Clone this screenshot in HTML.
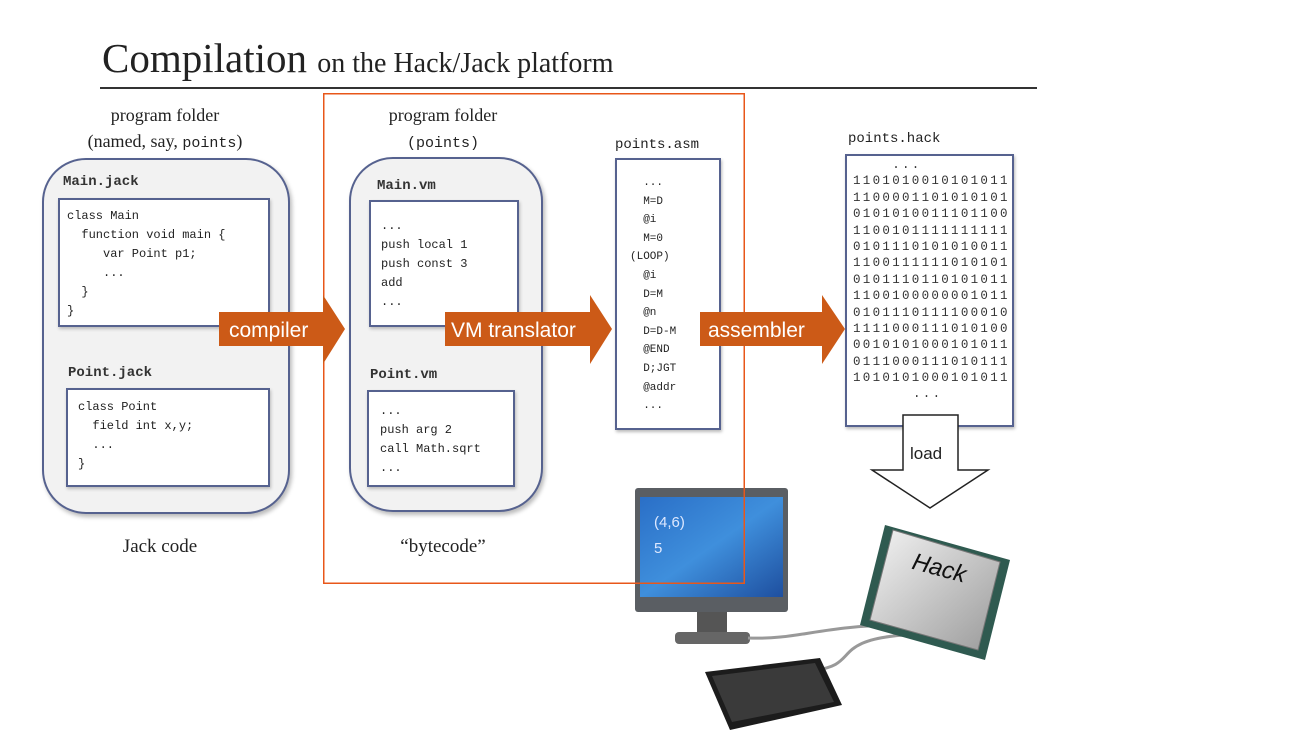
<!DOCTYPE html>
<html><head><meta charset="utf-8"><style>
body{margin:0;width:1316px;height:755px;background:#fff;position:relative;overflow:hidden;font-family:"Liberation Serif",serif;}
.a{position:absolute;}
.serif{font-family:"Liberation Serif",serif;color:#222;}
.mono{font-family:"Liberation Mono","DejaVu Sans Mono",monospace;color:#222;white-space:pre;}
.fold{position:absolute;background:#f2f2f2;border:2px solid #56628f;border-radius:44px;box-shadow:2px 3px 4px #bbb;}
.box{position:absolute;background:#fff;border:2px solid #56628f;box-shadow:1px 2px 3px #bbb;}
.lbl{font-family:"Liberation Mono","DejaVu Sans Mono",monospace;font-size:14px;font-weight:bold;color:#333;position:absolute;}
.code{font-size:12px;line-height:19px;position:absolute;}
</style></head><body>
<div class="a serif" style="left:102px;top:34px;font-size:41px;white-space:nowrap;">Compilation <span style="font-size:28px">on the Hack/Jack platform</span></div>
<div class="a" style="left:100px;top:87px;width:937px;height:2px;background:#333"></div>

<div class="a serif" style="left:65px;top:102px;width:200px;text-align:center;font-size:18px;line-height:26px;">program folder<br>(named, say, <span style="font-family:'Liberation Mono',monospace;font-size:15px">points</span>)</div>
<div class="fold" style="left:42px;top:158px;width:244px;height:352px"></div>
<div class="lbl" style="left:63px;top:174px">Main.jack</div>
<div class="box" style="left:58px;top:198px;width:208px;height:125px"></div>
<div class="code mono" style="left:67px;top:207px">class Main
  function void main {
     var Point p1;
     ...
  }
}</div>
<div class="lbl" style="left:68px;top:365px">Point.jack</div>
<div class="box" style="left:66px;top:388px;width:200px;height:95px"></div>
<div class="code mono" style="left:78px;top:398px">class Point
  field int x,y;
  ...
}</div>
<div class="a serif" style="left:60px;top:536px;width:200px;text-align:center;font-size:19px">Jack code</div>

<div class="a serif" style="left:343px;top:102px;width:200px;text-align:center;font-size:18px;line-height:26px;">program folder<br><span style="font-family:'Liberation Mono',monospace;font-size:15px">(points)</span></div>
<div class="fold" style="left:349px;top:157px;width:190px;height:351px"></div>
<div class="lbl" style="left:377px;top:178px">Main.vm</div>
<div class="box" style="left:369px;top:200px;width:146px;height:123px"></div>
<div class="code mono" style="left:381px;top:217px">...
push local 1
push const 3
add
...</div>
<div class="lbl" style="left:370px;top:367px">Point.vm</div>
<div class="box" style="left:367px;top:390px;width:144px;height:93px"></div>
<div class="code mono" style="left:380px;top:402px">...
push arg 2
call Math.sqrt
...</div>
<div class="a serif" style="left:343px;top:536px;width:200px;text-align:center;font-size:19px">“bytecode”</div>

<div class="lbl" style="left:615px;top:137px;font-weight:normal;color:#222">points.asm</div>
<div class="box" style="left:615px;top:158px;width:102px;height:268px"></div>
<div class="code mono" style="left:630px;top:174px;font-size:11px;line-height:18.6px">  ...
  M=D
  @i
  M=0
(LOOP)
  @i
  D=M
  @n
  D=D-M
  @END
  D;JGT
  @addr
  ...</div>

<div class="lbl" style="left:848px;top:131px;font-weight:normal;color:#222">points.hack</div>
<div class="box" style="left:845px;top:154px;width:165px;height:269px"></div>
<div class="code mono" style="left:853px;top:157px;font-size:12.5px;line-height:16.4px;letter-spacing:2.3px;color:#333">    ...
1101010010101011
1100001101010101
0101010011101100
1100101111111111
0101110101010011
1100111111010101
0101110110101011
1100100000001011
0101110111100010
1111000111010100
0010101000101011
0111000111010111
1010101000101011</div>
<div class="code mono" style="left:913px;top:385px;font-size:12.5px;letter-spacing:2.3px;color:#333">...</div>

<svg class="a" style="left:0;top:0" width="1316" height="755">
 <defs>
  <linearGradient id="scr" x1="0" y1="0" x2="1" y2="1"><stop offset="0" stop-color="#2a6fc7"/><stop offset="0.5" stop-color="#3f8fdc"/><stop offset="1" stop-color="#1e4f9f"/></linearGradient>
  <linearGradient id="chip" x1="0" y1="0" x2="1" y2="1"><stop offset="0" stop-color="#f4f4f4"/><stop offset="1" stop-color="#9a9a9a"/></linearGradient>
 </defs>
 <rect x="635" y="488" width="153" height="124" rx="3" fill="#5a5e63"/>
 <rect x="640" y="497" width="143" height="100" fill="url(#scr)"/>
 <rect x="697" y="612" width="30" height="22" fill="#555"/>
 <rect x="675" y="632" width="75" height="12" rx="4" fill="#666"/>
 <text x="654" y="527" font-family="Liberation Sans, sans-serif" font-size="15" fill="#dde8ff">(4,6)</text>
 <text x="654" y="553" font-family="Liberation Sans, sans-serif" font-size="15" fill="#dde8ff">5</text>
 <rect x="323.75" y="93.75" width="420.5" height="489.5" fill="none" stroke="#e8571a" stroke-width="1.5"/>
 <g fill="#cc5a17">
  <polygon points="219,312 323,312 323,295 345,329 323,364 323,346 219,346"/>
  <polygon points="445,312 590,312 590,295 612,329 590,364 590,346 445,346"/>
  <polygon points="700,312 822,312 822,295 845,329 822,364 822,346 700,346"/>
 </g>
 <g fill="#fff" font-family="Liberation Sans, sans-serif" font-size="21">
  <text x="229" y="337">compiler</text>
  <text x="451" y="337">VM translator</text>
  <text x="708" y="337">assembler</text>
 </g>
 <polygon points="903,415 958,415 958,470 988,470 930,508 872,470 903,470" fill="#fff" stroke="#222" stroke-width="1.5"/>
 <text x="910" y="459" font-family="Liberation Sans, sans-serif" font-size="17" fill="#222">load</text>
 <path d="M748,638 C800,640 820,625 905,625" stroke="#999" stroke-width="3" fill="none"/>
 <path d="M815,670 C860,665 830,640 905,635" stroke="#999" stroke-width="3" fill="none"/>
 <polygon points="885,525 1010,560 985,660 860,625" fill="#2f5a50"/>
 <polygon points="893,530 1000,562 978,650 870,620" fill="url(#chip)" stroke="#777"/>
 <text x="910" y="575" font-family="Liberation Sans, sans-serif" font-style="italic" font-size="24" fill="#111" transform="rotate(15 935 575)">Hack</text>
 <polygon points="705,672 820,658 842,705 730,730" fill="#1c1c1c"/>
 <polygon points="712,676 815,663 834,702 732,722" fill="#3a3a3a"/>
</svg>
</body></html>
